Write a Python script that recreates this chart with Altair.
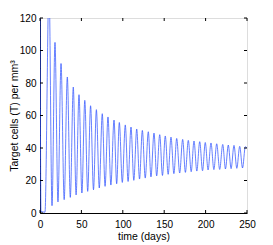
import altair as alt
import pandas as pd

# Initial transient (day, T)
start_days = [0.0, 1.2, 6.0]
start_values = [150.0, 1.0, 0.5]

# Peaks (day, T)
peak_days = [10.9, 18.1, 25.4, 33.0, 40.2, 47.1, 54.1, 61.1, 68.1, 75.2, 82.1, 89.4,
             95.8, 103.0, 109.9, 116.8, 123.6, 130.8, 137.7, 144.6, 151.3, 158.2,
             165.1, 172.3, 179.1, 186.0, 192.9, 199.6, 206.5, 213.4, 220.7, 227.4,
             234.3, 241.2, 248.0]
peak_values = [140.0, 105.0, 92.0, 83.7, 77.5, 72.8, 69.3, 66.0, 63.6, 61.1, 59.1, 57.2,
               55.7, 54.2, 52.9, 51.7, 50.8, 50.0, 49.2, 48.2, 47.4, 46.7,
               45.9, 45.3, 44.7, 44.3, 43.9, 43.4, 43.1, 42.6, 42.2, 41.8,
               41.6, 41.0, 40.8]

# Troughs (day, T)
trough_days = [14.5, 21.7, 29.2, 36.6, 43.6, 50.6, 57.6, 64.6, 71.6, 78.6, 85.6, 92.6,
               99.4, 106.4, 113.3, 120.2, 127.1, 134.0, 140.9, 147.9, 154.8, 161.7,
               168.7, 175.6, 182.6, 189.4, 196.3, 203.0, 210.0, 217.0, 224.0, 230.8,
               237.7, 244.6]
trough_values = [4.5, 6.8, 8.2, 9.6, 11.1, 12.3, 13.3, 14.3, 15.4, 16.4, 17.2, 18.0,
                 18.8, 19.4, 20.1, 20.9, 21.5, 22.2, 22.8, 23.1, 23.8, 24.2,
                 24.6, 25.0, 25.4, 25.8, 26.0, 26.5, 26.7, 26.8, 27.1, 27.3,
                 27.5, 27.7]

end_days = [250.0]
end_values = [40.0]

x_ticks = [0, 50, 100, 150, 200, 250]
y_ticks = [0, 20, 40, 60, 80, 100, 120]

days = start_days + peak_days + trough_days + end_days
vals = start_values + peak_values + trough_values + end_values
df = pd.DataFrame({"day": days, "T": vals}).sort_values("day")

W, H = 207, 195
FONT = "Liberation Sans"

x_scale = alt.Scale(domain=[0, 250], nice=False, zero=False)
y_scale = alt.Scale(domain=[0, 120], nice=False)

x_axis = alt.Axis(title="time (days)", values=x_ticks, ticks=False,
                  labelPadding=6, titlePadding=2, grid=False, labelOverlap=False,
                  labelFlush=False,
                  domainColor="#000", labelFontSize=10, titleFontSize=10.5,
                  titleFontWeight="normal", labelFont=FONT, titleFont=FONT,
                  labelColor="#000", titleColor="#000")
y_axis = alt.Axis(title="Target cells (T) per mm³", values=y_ticks, ticks=False,
                  labelPadding=4, grid=False, labelOverlap=False, labelFlush=False,
                  titleX=-21, titleY=H / 2, titleAngle=270, titleBaseline="bottom",
                  titleAlign="center",
                  domainColor="#000", labelFontSize=10, titleFontSize=10.5,
                  titleFontWeight="normal", labelFont=FONT, titleFont=FONT,
                  labelColor="#000", titleColor="#000")

line = alt.Chart(df).mark_line(
    color="#3355ff", strokeWidth=0.75, clip=True, interpolate="monotone"
).encode(
    x=alt.X("day:Q", scale=x_scale, axis=x_axis),
    y=alt.Y("T:Q", scale=y_scale, axis=y_axis),
)

xt = pd.DataFrame({"v": x_ticks})
yt = pd.DataFrame({"v": y_ticks})

xb = alt.Chart(xt).mark_rule(color="#000", strokeWidth=1).encode(
    x=alt.X("v:Q", scale=x_scale, axis=x_axis), y=alt.value(H), y2=alt.value(H - 3))
xtop = alt.Chart(xt).mark_rule(color="#000", strokeWidth=1).encode(
    x=alt.X("v:Q", scale=x_scale, axis=x_axis), y=alt.value(0), y2=alt.value(3))
yl = alt.Chart(yt).mark_rule(color="#000", strokeWidth=1).encode(
    y=alt.Y("v:Q", scale=y_scale, axis=y_axis), x=alt.value(0), x2=alt.value(3))
yr = alt.Chart(yt).mark_rule(color="#000", strokeWidth=1).encode(
    y=alt.Y("v:Q", scale=y_scale, axis=y_axis), x=alt.value(W), x2=alt.value(W - 3))

chart = alt.layer(line, xb, xtop, yl, yr).properties(
    width=W, height=H,
    autosize=alt.AutoSizeParams(type="none"),
    padding={"left": 32, "top": 10, "right": 10, "bottom": 30},
).configure_view(stroke="#555", strokeWidth=1).configure(background="white")

chart.save("out.html", embed_options={"renderer": "svg", "actions": False})
